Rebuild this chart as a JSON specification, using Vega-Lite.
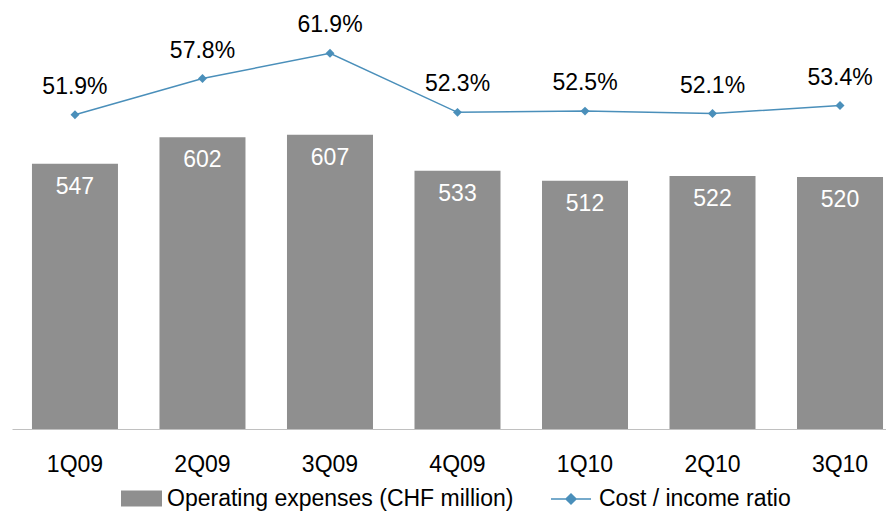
{
  "$schema": "https://vega.github.io/schema/vega-lite/v6.json",
  "width": 874,
  "height": 429,
  "autosize": "none",
  "padding": {"left": 12, "top": 0, "right": 0, "bottom": 82},
  "background": "white",
  "data": {
    "values": [
      {"q": "1Q09", "opex": 547, "ratio": 0.519},
      {"q": "2Q09", "opex": 602, "ratio": 0.578},
      {"q": "3Q09", "opex": 607, "ratio": 0.619},
      {"q": "4Q09", "opex": 533, "ratio": 0.523},
      {"q": "1Q10", "opex": 512, "ratio": 0.525},
      {"q": "2Q10", "opex": 522, "ratio": 0.521},
      {"q": "3Q10", "opex": 520, "ratio": 0.534}
    ]
  },
  "layer": [
    {
      "layer": [
        {
          "mark": {"type": "bar"},
          "encoding": {
            "x": {"field": "q", "type": "nominal", "sort": null, "title": null,
                  "scale": {"paddingInner": 0.3255, "paddingOuter": 0.09, "align": 0.87}},
            "y": {"field": "opex", "type": "quantitative", "axis": null, "scale": {"domain": [0, 885], "nice": false, "zero": true}},
            "fill": {"datum": "Operating expenses (CHF million)", "type": "nominal",
                     "scale": {"range": ["#8f8f8f"]},
                     "legend": {"orient": "none", "legendX": 109, "legendY": 478, "title": null,
                                "padding": 0, "symbolType": "M-1,-0.39H1V0.39H-1Z", "symbolSize": 1681,
                                "symbolStrokeWidth": 0, "labelOffset": 5, "labelFontSize": 23,
                                "labelFont": "Liberation Sans", "labelColor": "#000000", "labelLimit": 600}}
          }
        },
        {
          "mark": {"type": "text", "color": "white", "font": "Liberation Sans", "fontSize": 23, "baseline": "alphabetic", "dy": 30},
          "encoding": {
            "x": {"field": "q", "type": "nominal", "sort": null, "title": null},
            "y": {"field": "opex", "type": "quantitative", "axis": null, "scale": {"domain": [0, 885], "nice": false, "zero": true}},
            "text": {"field": "opex", "type": "quantitative"}
          }
        }
      ]
    },
    {
      "layer": [
        {
          "mark": {"type": "line", "strokeWidth": 1.5},
          "encoding": {
            "x": {"field": "q", "type": "nominal", "sort": null, "title": null},
            "y": {"field": "ratio", "type": "quantitative", "axis": null, "scale": {"domain": [0.0081, 0.7057], "nice": false, "zero": false}},
            "stroke": {"datum": "Cost / income ratio", "type": "nominal",
                       "scale": {"range": ["#4a8fba"]},
                       "legend": {"orient": "none", "legendX": 538, "legendY": 478, "title": null,
                                  "padding": 0, "symbolType": "M-1,0H1M0,-0.25L0.25,0L0,0.25L-0.25,0Z", "symbolSize": 1600,
                                  "symbolStrokeWidth": 1.5, "labelOffset": 7, "labelFontSize": 23,
                                  "labelFont": "Liberation Sans", "labelColor": "#000000", "labelLimit": 600,
                                  "encode": {"symbols": {"update": {"fill": {"value": "#4a8fba"}}}}}}
          }
        },
        {
          "mark": {"type": "point", "shape": "diamond", "filled": true, "size": 80, "color": "#4a8fba", "opacity": 1},
          "encoding": {
            "x": {"field": "q", "type": "nominal", "sort": null, "title": null},
            "y": {"field": "ratio", "type": "quantitative", "axis": null, "scale": {"domain": [0.0081, 0.7057], "nice": false, "zero": false}}
          }
        },
        {
          "mark": {"type": "text", "color": "black", "font": "Liberation Sans", "fontSize": 23, "baseline": "alphabetic", "dy": -21},
          "encoding": {
            "x": {"field": "q", "type": "nominal", "sort": null, "title": null},
            "y": {"field": "ratio", "type": "quantitative", "axis": null, "scale": {"domain": [0.0081, 0.7057], "nice": false, "zero": false}},
            "text": {"field": "ratio", "type": "quantitative", "format": ".1%"}
          }
        }
      ]
    }
  ],
  "resolve": {"scale": {"y": "independent"}},
  "config": {
    "view": {"stroke": null},
    "axisX": {
      "orient": "bottom",
      "domainColor": "#c0c0c0",
      "domainWidth": 1,
      "ticks": false,
      "tickSize": 0,
      "labelAngle": 0,
      "labelFont": "Liberation Sans",
      "labelFontSize": 23,
      "labelColor": "#000000",
      "labelPadding": 24,
      "grid": false
    }
  }
}
